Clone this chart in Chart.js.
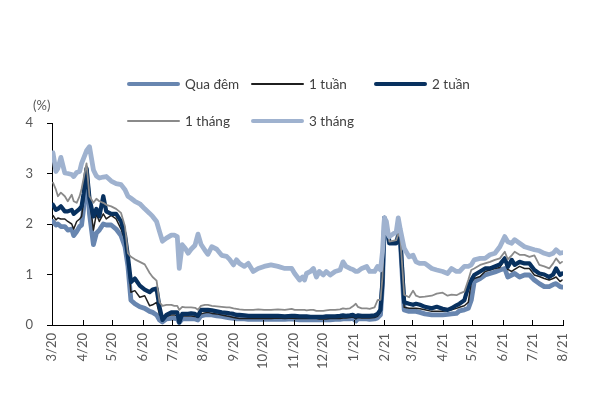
<!DOCTYPE html>
<html>
<head>
<meta charset="utf-8">
<script src="https://cdn.jsdelivr.net/npm/chart.js@4.4.1/dist/chart.umd.min.js"></script>
<style>
  html, body { margin: 0; padding: 0; background: #fff; }
  #wrap { position: relative; width: 609px; height: 394px; font-family: Lato, "Noto Sans", sans-serif; }
  #chart { position: absolute; left: 0; top: 0; }
  .item { position: absolute; height: 20px; display: flex; align-items: center; font-size: 13.5px; color: #404040; white-space: nowrap; }
  .item i { display: inline-block; width: 53px; margin-right: 5px; border-radius: 2px; }
  #unit { position: absolute; left: 33px; top: 97px; font-size: 13px; color: #595959; }
</style>
</head>
<body>
<div id="wrap">
  <canvas id="chart" width="609" height="394"></canvas>
  <div id="legend"></div>
  <div id="unit">(%)</div>
</div>
<script>
// Interbank rates by tenor, %
const dates = [
  '2020-03-02','2020-03-05','2020-03-07','2020-03-10','2020-03-14','2020-03-17','2020-03-21','2020-03-23','2020-03-26','2020-03-29',
  '2020-03-31','2020-04-02','2020-04-05','2020-04-08','2020-04-12','2020-04-15','2020-04-18','2020-04-22','2020-04-25','2020-04-30',
  '2020-05-05','2020-05-10','2020-05-14','2020-05-17','2020-05-20','2020-05-24','2020-05-29','2020-06-03','2020-06-08','2020-06-11',
  '2020-06-15','2020-06-18','2020-06-21','2020-06-25','2020-06-30','2020-07-03','2020-07-06','2020-07-08','2020-07-11','2020-07-14',
  '2020-07-17','2020-07-20','2020-07-24','2020-07-27','2020-07-30','2020-08-03','2020-08-06','2020-08-10','2020-08-15','2020-08-20',
  '2020-08-25','2020-08-28','2020-09-01','2020-09-04','2020-09-07','2020-09-12','2020-09-16','2020-09-21','2020-09-26','2020-10-02',
  '2020-10-09','2020-10-16','2020-10-23','2020-10-30','2020-11-02','2020-11-07','2020-11-10','2020-11-12','2020-11-14','2020-11-18',
  '2020-11-21','2020-11-24','2020-11-27','2020-12-01','2020-12-04','2020-12-08','2020-12-13','2020-12-18','2020-12-21','2020-12-24',
  '2020-12-28','2020-12-31','2021-01-03','2021-01-05','2021-01-09','2021-01-14','2021-01-17','2021-01-22','2021-01-25','2021-01-28',
  '2021-01-30','2021-02-01','2021-02-03','2021-02-05','2021-02-06','2021-02-13','2021-02-15','2021-02-17','2021-02-21','2021-02-26',
  '2021-03-02','2021-03-05','2021-03-09','2021-03-14','2021-03-21','2021-03-26','2021-04-01','2021-04-06','2021-04-10','2021-04-15',
  '2021-04-18','2021-04-23','2021-04-27','2021-04-30','2021-05-03','2021-05-09','2021-05-14','2021-05-19','2021-05-24','2021-05-29',
  '2021-06-03','2021-06-06','2021-06-10','2021-06-13','2021-06-18','2021-06-23','2021-06-28','2021-07-03','2021-07-08','2021-07-13',
  '2021-07-18','2021-07-22','2021-07-25','2021-07-29','2021-07-31'
];

const quaDem = [
  2.05,1.98,2.00,1.95,1.95,1.88,1.90,1.77,1.85,1.95,
  1.98,2.30,3.07,2.20,1.59,1.82,1.88,2.00,1.98,1.98,
  1.90,1.77,1.55,1.16,0.49,0.42,0.36,0.33,0.27,0.25,
  0.20,0.10,0.06,0.12,0.13,0.13,0.12,0.05,0.12,0.12,
  0.12,0.12,0.12,0.10,0.18,0.20,0.20,0.20,0.18,0.17,
  0.15,0.14,0.13,0.12,0.12,0.12,0.11,0.11,0.11,0.11,
  0.11,0.11,0.11,0.12,0.11,0.10,0.10,0.10,0.10,0.10,
  0.10,0.10,0.10,0.10,0.10,0.10,0.11,0.11,0.12,0.12,
  0.12,0.13,0.08,0.12,0.12,0.12,0.11,0.12,0.14,0.20,
  0.80,2.12,1.85,1.75,1.62,1.62,1.78,1.70,0.30,0.27,
  0.27,0.27,0.25,0.22,0.20,0.20,0.20,0.21,0.22,0.23,
  0.28,0.30,0.33,0.49,0.86,0.92,0.99,1.02,1.05,1.09,
  1.12,0.95,0.99,1.02,0.95,0.99,0.99,0.89,0.82,0.76,
  0.76,0.80,0.82,0.76,0.75
];

const motTuan = [
  2.17,2.08,2.12,2.10,2.10,2.05,2.00,1.90,2.05,2.10,
  2.15,2.45,3.15,2.50,1.88,2.20,2.05,2.20,2.10,2.17,
  2.10,1.90,1.68,1.29,0.65,0.68,0.55,0.58,0.38,0.40,
  0.45,0.20,0.17,0.17,0.20,0.20,0.18,0.10,0.18,0.18,
  0.18,0.18,0.17,0.15,0.22,0.24,0.25,0.23,0.22,0.20,
  0.18,0.17,0.15,0.14,0.13,0.13,0.13,0.13,0.13,0.13,
  0.13,0.14,0.13,0.14,0.13,0.13,0.13,0.13,0.13,0.13,
  0.13,0.13,0.12,0.12,0.12,0.13,0.13,0.13,0.14,0.14,
  0.15,0.16,0.12,0.15,0.14,0.14,0.14,0.15,0.17,0.25,
  0.75,2.05,1.78,1.72,1.60,1.60,1.72,1.65,0.35,0.33,
  0.33,0.33,0.32,0.30,0.27,0.27,0.27,0.28,0.30,0.33,
  0.35,0.38,0.45,0.85,0.92,0.96,1.06,1.09,1.12,1.14,
  1.29,1.10,1.06,1.10,1.16,1.12,1.12,0.99,0.96,0.92,
  0.89,0.92,0.95,0.86,0.89
];

const haiTuan = [
  2.38,2.28,2.30,2.35,2.25,2.25,2.28,2.20,2.25,2.30,
  2.35,2.60,3.10,2.50,2.15,2.30,2.15,2.55,2.25,2.20,
  2.20,2.05,1.78,1.35,0.85,0.92,0.78,0.70,0.65,0.70,
  0.72,0.35,0.10,0.20,0.25,0.25,0.25,0.05,0.22,0.22,
  0.22,0.23,0.22,0.18,0.30,0.30,0.30,0.29,0.27,0.25,
  0.24,0.23,0.22,0.20,0.20,0.19,0.18,0.18,0.18,0.18,
  0.18,0.18,0.17,0.18,0.18,0.17,0.17,0.17,0.17,0.16,
  0.16,0.16,0.16,0.16,0.17,0.17,0.17,0.18,0.19,0.18,
  0.19,0.20,0.17,0.19,0.18,0.18,0.18,0.19,0.22,0.30,
  0.85,2.12,1.82,1.75,1.62,1.62,1.75,1.70,0.45,0.42,
  0.40,0.42,0.40,0.36,0.33,0.36,0.32,0.30,0.33,0.39,
  0.42,0.49,0.76,0.89,0.99,1.06,1.12,1.12,1.16,1.20,
  1.32,1.15,1.29,1.19,1.25,1.22,1.22,1.09,1.02,1.00,
  0.95,1.00,1.12,0.99,1.02
];

const motThang = [
  2.82,2.68,2.55,2.62,2.55,2.45,2.58,2.45,2.42,2.55,
  2.70,2.90,3.20,2.55,2.42,2.50,2.45,2.42,2.38,2.35,
  2.30,2.22,1.95,1.42,1.35,1.30,1.25,1.20,1.03,0.95,
  0.88,0.45,0.38,0.40,0.40,0.38,0.38,0.30,0.36,0.35,
  0.35,0.35,0.34,0.30,0.38,0.40,0.40,0.38,0.37,0.36,
  0.35,0.35,0.33,0.32,0.31,0.30,0.30,0.30,0.31,0.30,
  0.30,0.31,0.30,0.32,0.30,0.30,0.30,0.30,0.29,0.30,
  0.30,0.28,0.28,0.28,0.29,0.30,0.30,0.31,0.33,0.32,
  0.33,0.37,0.42,0.36,0.33,0.33,0.32,0.35,0.49,0.50,
  0.95,2.05,1.85,1.78,1.65,1.68,1.80,1.75,0.60,0.55,
  0.68,0.58,0.55,0.56,0.58,0.62,0.64,0.58,0.60,0.59,
  0.62,0.66,0.89,1.09,1.12,1.19,1.22,1.25,1.29,1.32,
  1.45,1.30,1.38,1.45,1.39,1.39,1.35,1.38,1.19,1.16,
  1.12,1.22,1.32,1.22,1.25
];

const baThang = [
  3.41,3.04,3.10,3.32,3.01,3.00,2.98,2.94,3.02,3.04,
  3.20,3.30,3.45,3.53,3.07,2.95,2.91,2.93,2.94,2.85,
  2.80,2.78,2.68,2.55,2.51,2.45,2.40,2.30,2.21,2.15,
  2.05,1.85,1.66,1.72,1.78,1.78,1.75,1.12,1.59,1.52,
  1.42,1.50,1.58,1.80,1.60,1.48,1.40,1.55,1.50,1.38,
  1.36,1.30,1.19,1.29,1.22,1.16,1.22,1.06,1.12,1.16,
  1.19,1.16,1.12,1.12,1.02,0.89,0.95,0.89,1.02,1.06,
  1.12,0.95,1.06,0.99,1.06,0.99,1.06,1.09,1.25,1.16,
  1.12,1.10,1.06,1.06,1.12,1.16,1.06,1.06,1.16,1.09,
  1.45,2.12,2.05,1.78,1.75,1.85,2.12,1.90,1.52,1.35,
  1.38,1.25,1.22,1.22,1.12,1.09,1.06,1.02,1.12,1.06,
  1.06,1.16,1.16,1.19,1.29,1.32,1.32,1.39,1.42,1.55,
  1.75,1.65,1.62,1.69,1.62,1.55,1.52,1.49,1.47,1.42,
  1.39,1.42,1.49,1.42,1.43
];

const seriesNames = ['Qua đêm', '1 tuần', '2 tuần', '1 tháng', '3 tháng'];
const monthLabels = ['3/20','4/20','5/20','6/20','7/20','8/20','9/20','10/20','11/20','12/20',
                     '1/21','2/21','3/21','4/21','5/21','6/21','7/21','8/21'];
const yTicks = [0, 1, 2, 3, 4];

// x axis counts days from 1 March 2020
const ORIGIN = Date.UTC(2020, 2, 1);
const dayOf = (y, m, d) => Math.round((Date.UTC(y, m - 1, d) - ORIGIN) / 86400000);
const dateDays = dates.map(s => { const [y, m, d] = s.split('-').map(Number); return dayOf(y, m, d); });
const monthDays = monthLabels.map(s => { const [m, yy] = s.split('/').map(Number); return dayOf(2000 + yy, m, 1); });

const points = vals => vals.map((v, i) => ({ x: dateDays[i], y: v }));

const styles = [
  { color: '#6886b0', width: 4.8, order: 5, legendH: 4 },
  { color: '#1f1f1f', width: 1.5, order: 4, legendH: 2 },
  { color: '#08315f', width: 4.2, order: 3, legendH: 4 },
  { color: '#8a8a8a', width: 1.8, order: 2, legendH: 2 },
  { color: '#9fb2cf', width: 4.8, order: 1, legendH: 4 }
];
const seriesValues = [quaDem, motTuan, haiTuan, motThang, baThang];

const datasets = seriesNames.map((name, i) => ({
  label: name,
  data: points(seriesValues[i]),
  borderColor: styles[i].color,
  borderWidth: styles[i].width,
  order: styles[i].order,
  pointRadius: 0,
  tension: 0,
  fill: false,
  borderJoinStyle: 'round',
  borderCapStyle: 'round'
}));

// small upward tick marks on the date axis
const innerTicks = {
  id: 'innerTicks',
  afterDraw(chart) {
    const xs = chart.scales.x;
    const c = chart.ctx;
    c.save();
    c.strokeStyle = '#000';
    c.lineWidth = 1;
    c.beginPath();
    xs.ticks.forEach(t => {
      const px = Math.round(xs.getPixelForValue(t.value)) + 0.5;
      c.moveTo(px, xs.top);
      c.lineTo(px, xs.top - 5);
    });
    c.stroke();
    c.restore();
  }
};

const chart = new Chart(document.getElementById('chart'), {
  type: 'line',
  data: { datasets },
  options: {
    responsive: false,
    animation: false,
    layout: { padding: { left: 0, right: 46, top: 123, bottom: 0 } },
    plugins: { legend: { display: false }, tooltip: { enabled: false } },
    scales: {
      x: {
        type: 'linear',
        min: 0,
        max: monthDays[monthDays.length - 1],
        afterBuildTicks: s => { s.ticks = monthDays.map(v => ({ value: v })); },
        afterFit: s => { s.height = 69; },
        ticks: {
          autoSkip: false,
          minRotation: 90,
          maxRotation: 90,
          padding: 8,
          color: '#595959',
          font: { family: 'Lato', size: 13 },
          callback: (v, i) => monthLabels[i]
        },
        grid: { display: false, drawTicks: false },
        border: { display: true, color: '#000', width: 1 }
      },
      y: {
        min: 0,
        max: 4,
        afterBuildTicks: s => { s.ticks = yTicks.map(v => ({ value: v })); },
        afterFit: s => { s.width = 52; },
        ticks: { padding: 14, color: '#595959', font: { family: 'Lato', size: 13 } },
        grid: { drawOnChartArea: false, drawTicks: true, tickLength: 5, color: '#000' },
        border: { display: true, color: '#000', width: 1 }
      }
    }
  },
  plugins: [innerTicks]
});

// legend laid out in two rows on fixed columns
const slots = [[127, 74], [251, 74], [374, 74], [127, 111], [251, 111]];
const legend = document.getElementById('legend');
chart.data.datasets.forEach((ds, i) => {
  const el = document.createElement('div');
  el.className = 'item';
  el.style.left = slots[i][0] + 'px';
  el.style.top = slots[i][1] + 'px';
  const sw = document.createElement('i');
  sw.style.height = styles[i].legendH + 'px';
  sw.style.background = ds.borderColor;
  el.appendChild(sw);
  el.appendChild(document.createTextNode(ds.label));
  legend.appendChild(el);
});
</script>
</body>
</html>
